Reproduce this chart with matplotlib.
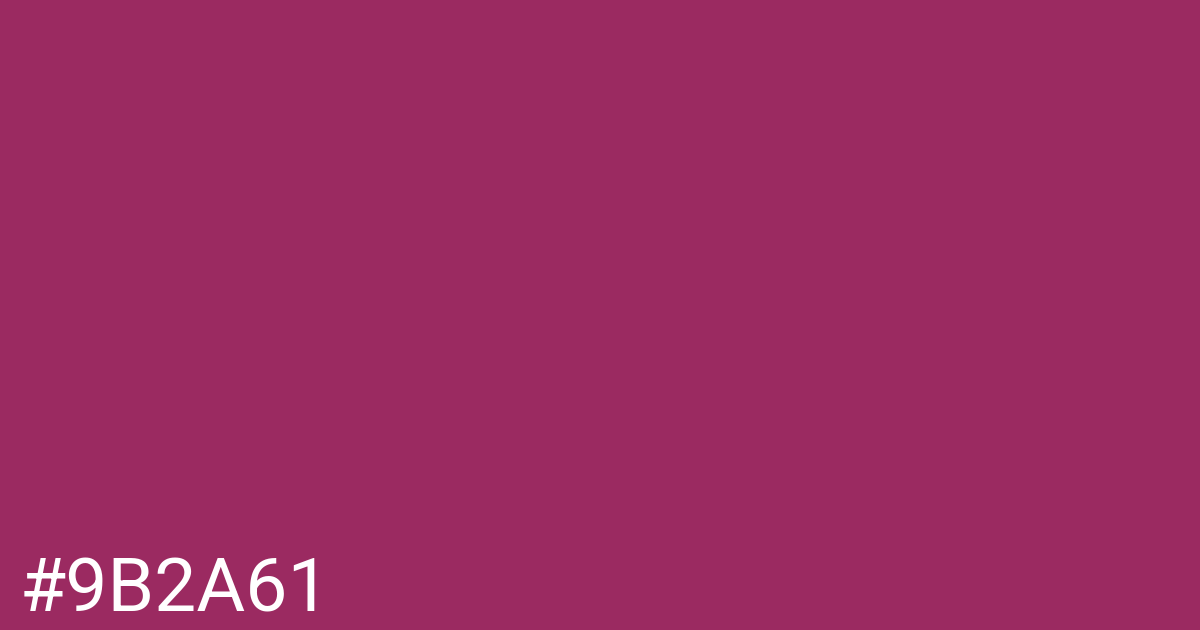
import matplotlib
matplotlib.use("Agg")
import matplotlib.pyplot as plt

# colour swatch
hex_code = "#9B2A61"
label_text = "#9B2A61"

fig = plt.figure(figsize=(12, 6.3), dpi=100)
fig.patch.set_facecolor(hex_code)
ax = fig.add_axes([0, 0, 1, 1])
ax.set_facecolor(hex_code)
ax.axis("off")

# baseline of the text at ~612px from top
fig.text(20/1200, 1 - 612/630, label_text, color="white",
         family="Roboto", fontsize=54, ha="left", va="baseline")

fig.savefig("out.png", dpi=100, facecolor=hex_code)
